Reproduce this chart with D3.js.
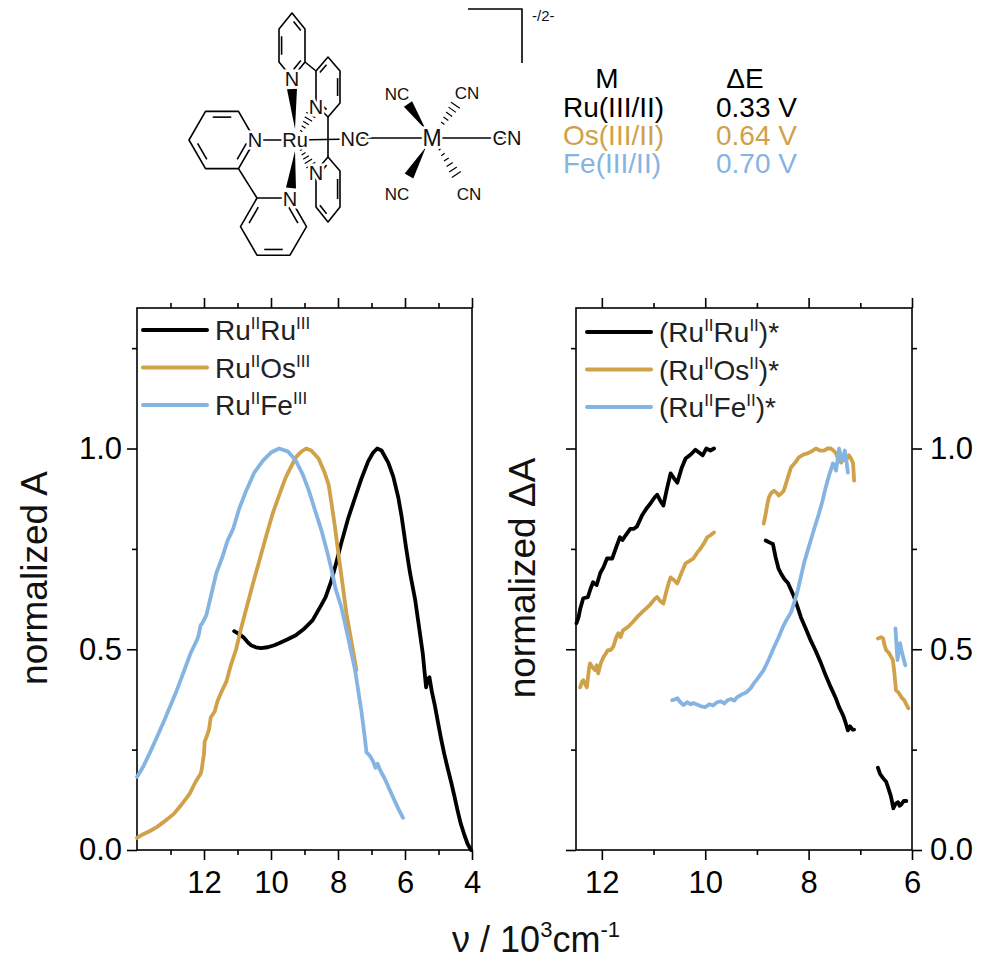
<!DOCTYPE html>
<html>
<head>
<meta charset="utf-8">
<script src="https://cdn.jsdelivr.net/npm/d3@7"></script>
<style>
  body { margin: 0; background: #fff; }
  svg { display: block; font-family: "Liberation Sans", Arial, sans-serif; }
</style>
</head>
<body>
<svg id="chart" width="985" height="969"></svg>
<script>
// ---- data: [wavenumber (10^3 cm-1), normalized value], null = gap ----
const absRuRu = [[11.1,0.545],[11.0,0.54],[10.9,0.535],[10.8,0.528],[10.7,0.518],[10.6,0.51],[10.45,0.505],[10.3,0.503],[10.1,0.505],[9.9,0.51],[9.76,0.515],[9.5,0.525],[9.26,0.535],[9.0,0.552],[8.76,0.572],[8.5,0.61],[8.37,0.63],[8.2,0.67],[8.07,0.71],[7.9,0.765],[7.7,0.825],[7.49,0.878],[7.3,0.925],[7.1,0.968],[6.95,0.99],[6.83,1.0],[6.7,0.995],[6.5,0.965],[6.35,0.93],[6.2,0.878],[6.1,0.83],[5.97,0.754],[5.85,0.69],[5.7,0.625],[5.58,0.555],[5.47,0.49],[5.4,0.43],[5.37,0.405],[5.33,0.425],[5.27,0.43],[5.2,0.395],[5.11,0.36],[5.02,0.32],[4.93,0.28],[4.83,0.24],[4.73,0.205],[4.62,0.168],[4.52,0.132],[4.43,0.098],[4.34,0.067],[4.23,0.038],[4.13,0.015],[4.03,0.0]];
const absRuOs = [[14.0,0.03],[13.8,0.04],[13.6,0.048],[13.41,0.057],[13.2,0.07],[12.9,0.09],[12.7,0.11],[12.43,0.14],[12.25,0.17],[12.1,0.19],[12.07,0.2],[12.0,0.24],[11.98,0.27],[11.93,0.28],[11.85,0.3],[11.8,0.33],[11.68,0.345],[11.6,0.37],[11.5,0.39],[11.33,0.42],[11.2,0.46],[11.04,0.5],[10.9,0.55],[10.74,0.6],[10.55,0.66],[10.35,0.72],[10.15,0.78],[9.95,0.838],[9.75,0.885],[9.56,0.928],[9.4,0.955],[9.26,0.978],[9.1,0.992],[8.95,1.0],[8.8,0.995],[8.58,0.975],[8.4,0.94],[8.28,0.91],[8.22,0.878],[8.1,0.81],[7.99,0.74],[7.87,0.665],[7.75,0.59],[7.6,0.52],[7.45,0.448]];
const absRuFe = [[14.0,0.182],[13.8,0.21],[13.6,0.245],[13.41,0.28],[13.2,0.32],[13.0,0.36],[12.81,0.398],[12.6,0.445],[12.4,0.49],[12.2,0.525],[12.16,0.535],[12.1,0.56],[12.05,0.565],[11.93,0.585],[11.8,0.63],[11.63,0.69],[11.45,0.73],[11.3,0.77],[11.13,0.8],[10.95,0.85],[10.74,0.895],[10.5,0.94],[10.24,0.97],[10.0,0.99],[9.76,1.0],[9.5,0.993],[9.26,0.97],[9.05,0.935],[8.87,0.895],[8.7,0.85],[8.49,0.795],[8.33,0.745],[8.19,0.697],[8.07,0.65],[7.9,0.605],[7.7,0.53],[7.49,0.448],[7.3,0.345],[7.2,0.28],[7.15,0.243],[7.05,0.235],[6.95,0.22],[6.88,0.205],[6.82,0.215],[6.75,0.2],[6.62,0.18],[6.5,0.158],[6.35,0.13],[6.2,0.103],[6.06,0.08]];

const tasRuRu = [[12.49,0.565],[12.45,0.58],[12.42,0.6],[12.36,0.627],[12.27,0.63],[12.22,0.65],[12.17,0.667],[12.1,0.66],[12.03,0.69],[11.97,0.704],[11.9,0.726],[11.8,0.726],[11.72,0.755],[11.65,0.779],[11.6,0.772],[11.55,0.782],[11.45,0.8],[11.38,0.8],[11.32,0.806],[11.22,0.834],[11.14,0.85],[11.06,0.863],[10.98,0.878],[10.93,0.885],[10.87,0.87],[10.81,0.858],[10.74,0.9],[10.67,0.938],[10.6,0.925],[10.54,0.915],[10.46,0.95],[10.38,0.975],[10.28,0.985],[10.19,0.997],[10.12,0.99],[10.05,0.983],[9.98,1.0],[9.9,0.995],[9.83,1.0],
  null,
  [8.83,0.771],[8.74,0.765],[8.69,0.762],[8.64,0.73],[8.58,0.7],[8.54,0.69],[8.47,0.675],[8.4,0.665],[8.33,0.645],[8.28,0.63],[8.2,0.6],[8.15,0.58],[8.05,0.55],[7.96,0.522],[7.86,0.495],[7.76,0.465],[7.67,0.435],[7.57,0.405],[7.48,0.38],[7.41,0.356],[7.35,0.34],[7.32,0.331],[7.28,0.315],[7.24,0.298],[7.2,0.308],[7.18,0.305],[7.15,0.3],[7.12,0.3],
  null,
  [6.66,0.205],[6.62,0.19],[6.56,0.179],[6.5,0.17],[6.46,0.155],[6.41,0.135],[6.36,0.104],[6.32,0.115],[6.27,0.119],[6.24,0.11],[6.21,0.113],[6.16,0.122],[6.11,0.122]];
const tasRuOs = [[12.42,0.405],[12.38,0.42],[12.36,0.423],[12.31,0.41],[12.29,0.405],[12.25,0.45],[12.23,0.465],[12.18,0.455],[12.13,0.448],[12.1,0.46],[12.07,0.44],[12.02,0.465],[11.97,0.48],[11.92,0.49],[11.88,0.498],[11.83,0.498],[11.78,0.506],[11.72,0.53],[11.68,0.54],[11.64,0.53],[11.59,0.547],[11.49,0.556],[11.4,0.568],[11.32,0.58],[11.2,0.595],[11.1,0.607],[11.06,0.612],[10.98,0.625],[10.93,0.63],[10.87,0.62],[10.81,0.614],[10.75,0.645],[10.7,0.668],[10.67,0.679],[10.6,0.672],[10.54,0.664],[10.46,0.69],[10.38,0.714],[10.3,0.72],[10.23,0.726],[10.16,0.74],[10.09,0.751],[10.02,0.765],[9.96,0.779],[9.9,0.784],[9.83,0.791],
  null,
  [8.87,0.813],[8.84,0.83],[8.8,0.86],[8.77,0.878],[8.72,0.89],[8.67,0.895],[8.62,0.89],[8.58,0.883],[8.53,0.888],[8.48,0.895],[8.42,0.92],[8.34,0.953],[8.26,0.965],[8.19,0.978],[8.1,0.985],[8.02,0.988],[7.94,0.993],[7.86,1.0],[7.78,0.995],[7.7,0.995],[7.63,1.0],[7.57,1.0],[7.52,0.995],[7.47,0.988],[7.42,0.97],[7.37,0.965],[7.32,0.975],[7.28,0.97],[7.22,0.983],[7.18,0.975],[7.14,0.963],[7.12,0.92],
  null,
  [6.66,0.527],[6.6,0.53],[6.56,0.527],[6.53,0.51],[6.5,0.498],[6.44,0.49],[6.4,0.48],[6.37,0.473],[6.34,0.44],[6.31,0.398],[6.28,0.395],[6.25,0.39],[6.2,0.38],[6.15,0.373],[6.1,0.36],[6.07,0.353]];
const tasRuFe = [[10.64,0.373],[10.58,0.375],[10.54,0.378],[10.48,0.368],[10.42,0.361],[10.35,0.368],[10.28,0.363],[10.23,0.366],[10.15,0.362],[10.08,0.358],[10.0,0.356],[9.92,0.363],[9.85,0.36],[9.77,0.368],[9.7,0.37],[9.63,0.365],[9.57,0.373],[9.5,0.376],[9.44,0.372],[9.38,0.381],[9.3,0.387],[9.2,0.393],[9.12,0.403],[9.06,0.415],[8.97,0.43],[8.87,0.448],[8.77,0.475],[8.67,0.505],[8.58,0.53],[8.5,0.555],[8.42,0.575],[8.34,0.592],[8.27,0.62],[8.21,0.647],[8.15,0.68],[8.09,0.714],[8.02,0.745],[7.96,0.771],[7.88,0.805],[7.8,0.838],[7.73,0.87],[7.67,0.903],[7.6,0.935],[7.53,0.963],[7.47,0.945],[7.43,0.98],[7.41,1.0],[7.37,0.975],[7.34,0.97],[7.3,0.995],[7.27,0.97],[7.24,0.94],
  null,
  [6.32,0.552],[6.3,0.51],[6.28,0.473],[6.25,0.5],[6.23,0.515],[6.2,0.495],[6.17,0.48],[6.15,0.47],[6.13,0.46]];

const legendLeft = ["Ru{II}Ru{III}", "Ru{II}Os{III}", "Ru{II}Fe{III}"];
const legendRight = ["(Ru{II}Ru{II})*", "(Ru{II}Os{II})*", "(Ru{II}Fe{II})*"];
const tableMetals = ["Ru(III/II)", "Os(III/II)", "Fe(III/II)"];
const tableDeltaE = ["0.33 V", "0.64 V", "0.70 V"];

const xMajorLeft = [12, 10, 8, 6, 4], xMinorLeft = [13, 11, 9, 7, 5];
const xMajorRight = [12, 10, 8, 6], xMinorRight = [11, 9, 7];
const yMajor = [0, 0.5, 1.0], yMinor = [0.25, 0.75, 1.25];

const colors = ["#000000", "#CFA149", "#86B4E2"];

// ---- layout ----
const svg = d3.select("#chart");
const plotTop = 308, plotBottom = 850;
const y = d3.scaleLinear().domain([0, 1.35]).range([plotBottom, plotTop]);
const xLeft = d3.scaleLinear().domain([14, 4]).range([137, 472]);
const xRight = d3.scaleLinear().domain([12.5, 6]).range([576, 912]);

// text with {superscript} parts
function richText(sel, str, size, supSize, supShift) {
  const parts = str.split(/(\{[^}]*\})/).filter(s => s.length);
  let raised = false;
  parts.forEach(p => {
    const sup = p.startsWith("{");
    const t = sel.append("tspan").text(sup ? p.slice(1, -1) : p)
      .attr("font-size", sup ? supSize : size);
    if (sup && !raised) { t.attr("dy", -supShift); raised = true; }
    else if (!sup && raised) { t.attr("dy", supShift); raised = false; }
  });
}

function styleAxis(g) {
  g.select(".domain").remove();
  g.selectAll("line").attr("stroke", "#000").attr("stroke-width", 1.6);
  g.selectAll("text").attr("font-size", 31).attr("fill", "#000")
    .attr("font-family", "'Liberation Sans', Arial, sans-serif");
}

function drawPanel(x, xMajor, xMinor, labelSide) {
  const [x0, x1] = x.range();
  const g = svg.append("g");
  const fmtX = d3.format("d"), fmtY = d3.format(".1f");

  g.append("g").attr("transform", `translate(0,${plotBottom})`)
    .call(d3.axisBottom(x).tickValues(xMajor).tickSize(10).tickPadding(11).tickFormat(fmtX)).call(styleAxis);
  g.append("g").attr("transform", `translate(0,${plotBottom})`)
    .call(d3.axisBottom(x).tickValues(xMinor).tickSize(5).tickFormat("")).call(styleAxis);
  g.append("g").attr("transform", `translate(0,${plotTop})`)
    .call(d3.axisTop(x).tickValues(xMajor).tickSize(10).tickFormat("")).call(styleAxis);
  g.append("g").attr("transform", `translate(0,${plotTop})`)
    .call(d3.axisTop(x).tickValues(xMinor).tickSize(5).tickFormat("")).call(styleAxis);

  g.append("g").attr("transform", `translate(${x0},0)`)
    .call(d3.axisLeft(y).tickValues(yMajor).tickSize(10).tickPadding(5)
      .tickFormat(labelSide === "left" ? fmtY : "")).call(styleAxis);
  g.append("g").attr("transform", `translate(${x0},0)`)
    .call(d3.axisLeft(y).tickValues(yMinor).tickSize(5).tickFormat("")).call(styleAxis);
  if (labelSide === "right") {
    g.append("g").attr("transform", `translate(${x1},0)`)
      .call(d3.axisRight(y).tickValues(yMajor).tickSize(10).tickPadding(8).tickFormat(fmtY)).call(styleAxis);
    g.append("g").attr("transform", `translate(${x1},0)`)
      .call(d3.axisRight(y).tickValues(yMinor).tickSize(5).tickFormat("")).call(styleAxis);
  }

  g.append("rect").attr("x", x0).attr("y", plotTop)
    .attr("width", x1 - x0).attr("height", plotBottom - plotTop)
    .attr("fill", "none").attr("stroke", "#000").attr("stroke-width", 1.6);
  return g;
}

function drawSeries(g, x, series) {
  const line = d3.line().defined(d => d !== null).x(d => x(d[0])).y(d => y(d[1]));
  series.forEach((s, i) => {
    g.append("path").datum(s).attr("d", line)
      .attr("fill", "none").attr("stroke", colors[i]).attr("stroke-width", 3.8)
      .attr("stroke-linejoin", "round").attr("stroke-linecap", "round");
  });
}

function drawLegend(g, x0, y0, labels) {
  labels.forEach((lab, i) => {
    const yy = y0 + i * 37.5;
    g.append("line").attr("x1", x0).attr("x2", x0 + 64).attr("y1", yy).attr("y2", yy)
      .attr("stroke", colors[i]).attr("stroke-width", 4).attr("stroke-linecap", "round");
    const t = g.append("text").attr("x", x0 + 72).attr("y", yy + 10).attr("fill", "#222");
    richText(t, lab, 28, 17, 11);
  });
}

const left = drawPanel(xLeft, xMajorLeft, xMinorLeft, "left");
drawSeries(left, xLeft, [absRuRu, absRuOs, absRuFe]);
drawLegend(left, 143, 330, legendLeft);

const right = drawPanel(xRight, xMajorRight, xMinorRight, "right");
drawSeries(right, xRight, [tasRuRu, tasRuOs, tasRuFe]);
drawLegend(right, 587, 332, legendRight);

// axis titles
svg.append("text").attr("transform", "translate(47,578) rotate(-90)")
  .attr("text-anchor", "middle").attr("font-size", 37).attr("fill", "#111").text("normalized A");
svg.append("text").attr("transform", "translate(535,578) rotate(-90)")
  .attr("text-anchor", "middle").attr("font-size", 37).attr("fill", "#111").text("normalized \u0394A");
const xt = svg.append("text").attr("x", 536).attr("y", 952)
  .attr("text-anchor", "middle").attr("fill", "#111");
richText(xt, "\u03bd / 10{3}cm{-1}", 36, 22, 15);

// ---- table of M / ΔE ----
const table = svg.append("g").attr("font-size", 28);
table.append("text").attr("x", 607).attr("y", 88).attr("text-anchor", "middle").text("M");
table.append("text").attr("x", 745).attr("y", 88).attr("text-anchor", "middle").text("\u0394E");
tableMetals.forEach((m, i) => {
  table.append("text").attr("x", 563).attr("y", 117 + i * 28).attr("fill", colors[i]).text(m);
  table.append("text").attr("x", 716).attr("y", 117 + i * 28).attr("fill", colors[i]).text(tableDeltaE[i]);
});

// ---- structure drawing ----
const mol = svg.append("g").attr("stroke", "#000").attr("stroke-width", 1.6)
  .attr("fill", "none").attr("stroke-linejoin", "round");

function hexFlat(cx, cy, r) { // vertices R, BR, BL, L, TL, TR
  return d3.range(6).map(k => [cx + r * Math.cos(k * Math.PI / 3), cy + r * Math.sin(k * Math.PI / 3)]);
}
function ring(pts, doubles) {
  mol.append("path").attr("d", "M" + pts.map(p => p.join(",")).join("L") + "Z");
  const cx = d3.mean(pts, p => p[0]), cy = d3.mean(pts, p => p[1]);
  doubles.forEach(k => {
    const a = pts[k], b = pts[(k + 1) % 6];
    const pull = p => [p[0] + (cx - p[0]) * 0.2, p[1] + (cy - p[1]) * 0.2];
    const a2 = pull(a), b2 = pull(b);
    const sa = [a2[0] + (b2[0] - a2[0]) * 0.15, a2[1] + (b2[1] - a2[1]) * 0.15];
    const sb = [b2[0] + (a2[0] - b2[0]) * 0.15, b2[1] + (a2[1] - b2[1]) * 0.15];
    mol.append("line").attr("x1", sa[0]).attr("y1", sa[1]).attr("x2", sb[0]).attr("y2", sb[1]);
  });
}
function bond(a, b) {
  mol.append("line").attr("x1", a[0]).attr("y1", a[1]).attr("x2", b[0]).attr("y2", b[1]);
}
function wedge(tip, base, w) {
  const dx = base[0] - tip[0], dy = base[1] - tip[1], L = Math.hypot(dx, dy);
  const nx = -dy / L * w, ny = dx / L * w;
  mol.append("path").attr("fill", "#000").attr("stroke", "none")
    .attr("d", `M${tip}L${base[0] + nx},${base[1] + ny}L${base[0] - nx},${base[1] - ny}Z`);
}
function hashed(tip, base, w, n) {
  const dx = base[0] - tip[0], dy = base[1] - tip[1], L = Math.hypot(dx, dy);
  for (let k = 0; k < n; k++) {
    const t = (k + 0.5) / n, hw = w * t + 0.8;
    const px = tip[0] + dx * t, py = tip[1] + dy * t;
    mol.append("line").attr("stroke-width", 1.2)
      .attr("x1", px - dy / L * hw).attr("y1", py + dx / L * hw)
      .attr("x2", px + dy / L * hw).attr("y2", py - dx / L * hw);
  }
}

const ringA = hexFlat(222, 140, 33);
const ringB = hexFlat(273.5, 226.6, 33);
const ringC = [[292,13],[305,29],[305,62],[292,78],[279,62],[279,29]];
const ringD = [[328,57],[340,71],[340,103],[328,117],[316,105],[316,71]];
const ringE = [[328,157],[340,171],[340,207],[328,222],[316,207],[316,171]];
ring(ringA, [4, 2, 0]);
ring(ringB, [5, 1, 3]);
ring(ringC, [0, 2, 4]);
ring(ringD, [5, 1, 3]);
ring(ringE, [1, 3, 5]);
bond(ringA[1], ringB[4]);
bond(ringC[2], ringD[5]);
bond(ringD[3], ringE[0]);

const Ru = [295, 140], M = [432, 138];
bond([255, 140], Ru);
bond(Ru, [355, 139]);
bond([355, 138], M);
bond(M, [507, 138]);
wedge([295, 129], [292, 89], 5);
wedge([295, 151], [291, 188], 5);
hashed([300, 133], [312, 113], 5, 5);
hashed([300, 148], [312, 167], 5, 5);
wedge([426, 130], [408, 104], 5);
wedge([426, 147], [409, 176], 5);
hashed([438, 130], [457, 103], 5, 6);
hashed([438, 147], [458, 177], 5, 6);

const atoms = [
  ["N", 255, 140, 20], ["Ru", 295, 140, 20], ["N", 290, 199, 20], ["N", 292, 79, 20],
  ["N", 316, 107, 20], ["N", 316, 173, 20], ["NC", 355, 139, 20], ["M", 432, 138, 23],
  ["CN", 507, 138, 20], ["NC", 397, 94, 17], ["CN", 467, 93, 17], ["NC", 397, 194, 17], ["CN", 469, 194, 17]
];
svg.append("g").selectAll("text").data(atoms).join("text")
  .attr("x", d => d[1]).attr("y", d => d[2]).attr("font-size", d => d[3])
  .attr("text-anchor", "middle").attr("dominant-baseline", "central")
  .attr("stroke", "#fff").attr("stroke-width", 5).attr("paint-order", "stroke")
  .attr("fill", "#111").text(d => d[0]);

// charge bracket
mol.append("path").attr("d", "M468,9H522V63");
svg.append("text").attr("x", 532).attr("y", 21).attr("font-size", 15).attr("fill", "#111").text("-/2-");
</script>
</body>
</html>
